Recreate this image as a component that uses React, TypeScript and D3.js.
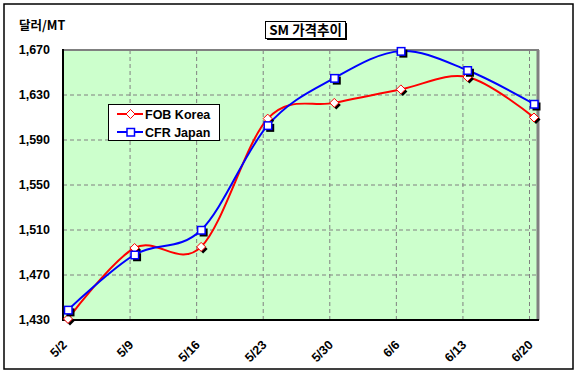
import React from "react";
import * as d3 from "d3";

const categories = ["5/2", "5/9", "5/16", "5/23", "5/30", "6/6", "6/13", "6/20"];
const fobKorea = [1431, 1494, 1495, 1609, 1623, 1635, 1646, 1610];
const cfrJapan = [1439, 1488, 1510, 1603, 1645, 1669, 1652, 1622];
const yTicks = [1430, 1470, 1510, 1550, 1590, 1630, 1670];
const seriesNames = ["FOB Korea", "CFR Japan"];

const W = 580;
const H = 373;
const plot = { left: 63, right: 538, top: 50, bottom: 320 };
const font = "'Liberation Sans', Arial, sans-serif";
const kfont = "'Noto Sans CJK KR', 'Liberation Sans', sans-serif";

export default function App() {
  const x = d3.scalePoint<string>().domain(categories).range([68, 534]);
  const y = d3.scaleLinear().domain([1430, 1670]).range([plot.bottom, plot.top]);
  const line = d3
    .line<number>()
    .x((_, i) => x(categories[i]) as number)
    .y((v) => y(v))
    .curve(d3.curveCardinal.tension(0));

  const diamond = (cx: number, cy: number, r: number) =>
    `M${cx},${cy - r}L${cx + r},${cy}L${cx},${cy + r}L${cx - r},${cy}Z`;

  return (
    <svg width={W} height={H} style={{ position: "absolute", left: 0, top: 0 }}>
      <rect x={0} y={0} width={W} height={H} fill="#fff" />
      <rect x={4} y={4} width={569} height={365} fill="#fff" stroke="#000" strokeWidth={1.5} />
      {/* plot area */}
      <rect
        x={plot.left}
        y={plot.top}
        width={plot.right - plot.left}
        height={plot.bottom - plot.top}
        fill="#CCFFCC"
      />
      {/* gridlines */}
      {yTicks.slice(1, -1).map((t) => (
        <line
          key={"hy" + t}
          x1={plot.left}
          x2={plot.right}
          y1={y(t)}
          y2={y(t)}
          stroke="#808080"
          strokeWidth={1}
          strokeDasharray="4,3"
        />
      ))}
      {categories.slice(1).map((c) => (
        <line
          key={"vx" + c}
          x1={(x(c) as number) - 4.5}
          x2={(x(c) as number) - 4.5}
          y1={plot.top}
          y2={plot.bottom}
          stroke="#808080"
          strokeWidth={1}
          strokeDasharray="4,3"
        />
      ))}
      {/* plot border: gray top/right, black axes */}
      <line x1={plot.left} x2={plot.right + 1} y1={plot.top} y2={plot.top} stroke="#808080" strokeWidth={2} />
      <line x1={plot.right} x2={plot.right} y1={plot.top} y2={plot.bottom} stroke="#808080" strokeWidth={3} />
      <line x1={plot.left} x2={plot.left} y1={plot.top - 1} y2={plot.bottom + 1} stroke="#000" strokeWidth={2} />
      <line x1={plot.left - 1} x2={plot.right + 1} y1={plot.bottom} y2={plot.bottom} stroke="#000" strokeWidth={2} />

      {/* y tick labels */}
      {yTicks.map((t) => (
        <text
          key={"yl" + t}
          x={50}
          y={y(t)}
          dy="0.35em"
          textAnchor="end"
          fontFamily={font}
          fontWeight="bold"
          fontSize={12.5}
          fill="#000"
        >
          {d3.format(",")(t)}
        </text>
      ))}
      {/* x tick labels */}
      {categories.map((c) => {
        const px = (x(c) as number) - 7;
        const py = 339;
        return (
          <text
            key={"xl" + c}
            x={px}
            y={py}
            transform={`rotate(-45 ${px} ${py})`}
            textAnchor="end"
            dy="0.75em"
            fontFamily={font}
            fontWeight="bold"
            fontSize={12.5}
            fill="#000"
          >
            {c}
          </text>
        );
      })}

      {/* series lines */}
      <path d={line(fobKorea) || ""} fill="none" stroke="#FF0000" strokeWidth={2} />
      <path d={line(cfrJapan) || ""} fill="none" stroke="#0000FF" strokeWidth={2} />

      {/* markers FOB: diamonds */}
      {fobKorea.map((v, i) => {
        const cx = x(categories[i]) as number;
        const cy = y(v);
        return (
          <g key={"fm" + i}>
            <path d={diamond(cx + 2, cy + 2, 4.5)} fill="#000" />
            <path d={diamond(cx, cy, 4.5)} fill="#fff" stroke="#FF0000" strokeWidth={1} />
          </g>
        );
      })}
      {cfrJapan.map((v, i) => {
        const cx = x(categories[i]) as number;
        const cy = y(v);
        return (
          <g key={"cm" + i}>
            <rect x={cx - 3.5 + 2} y={cy - 3.5 + 2} width={8} height={8} fill="#000" />
            <rect x={cx - 3.5} y={cy - 3.5} width={7.5} height={7.5} fill="#fff" stroke="#0000FF" strokeWidth={1.5} />
          </g>
        );
      })}

      {/* legend */}
      <rect x={108.5} y={104.5} width={111} height={36} fill="#fff" stroke="#000" strokeWidth={1} />
      {seriesNames.map((n, i) => {
        const ly = 114 + i * 18;
        const col = i === 0 ? "#FF0000" : "#0000FF";
        return (
          <g key={"lg" + n}>
            <line x1={117} x2={143} y1={ly} y2={ly} stroke={col} strokeWidth={2} />
            {i === 0 ? (
              <path d={diamond(130.5, ly, 4.5)} fill="#fff" stroke={col} strokeWidth={1} />
            ) : (
              <rect x={127} y={ly - 3.5} width={7.5} height={7.5} fill="#fff" stroke={col} strokeWidth={1.5} />
            )}
            <text x={145} y={ly} dy="0.36em" fontFamily={font} fontWeight="bold" fontSize={12.5} fill="#000">
              {n}
            </text>
          </g>
        );
      })}

      {/* title box */}
      <rect x={267} y={23} width={80} height={17} fill="#000" />
      <rect x={265.5} y={21.5} width={80} height={17} fill="#fff" stroke="#000" strokeWidth={1} />
      <text x={305.5} y={30} dy="0.36em" textAnchor="middle" fontFamily={kfont} fontWeight="bold" fontSize={13.5} fill="#000">
        SM 가격추이
      </text>

      {/* y axis title */}
      <text x={19} y={25} dy="0.36em" fontFamily={kfont} fontWeight="bold" fontSize={12.5} fill="#000">
        달러/MT
      </text>
    </svg>
  );
}
